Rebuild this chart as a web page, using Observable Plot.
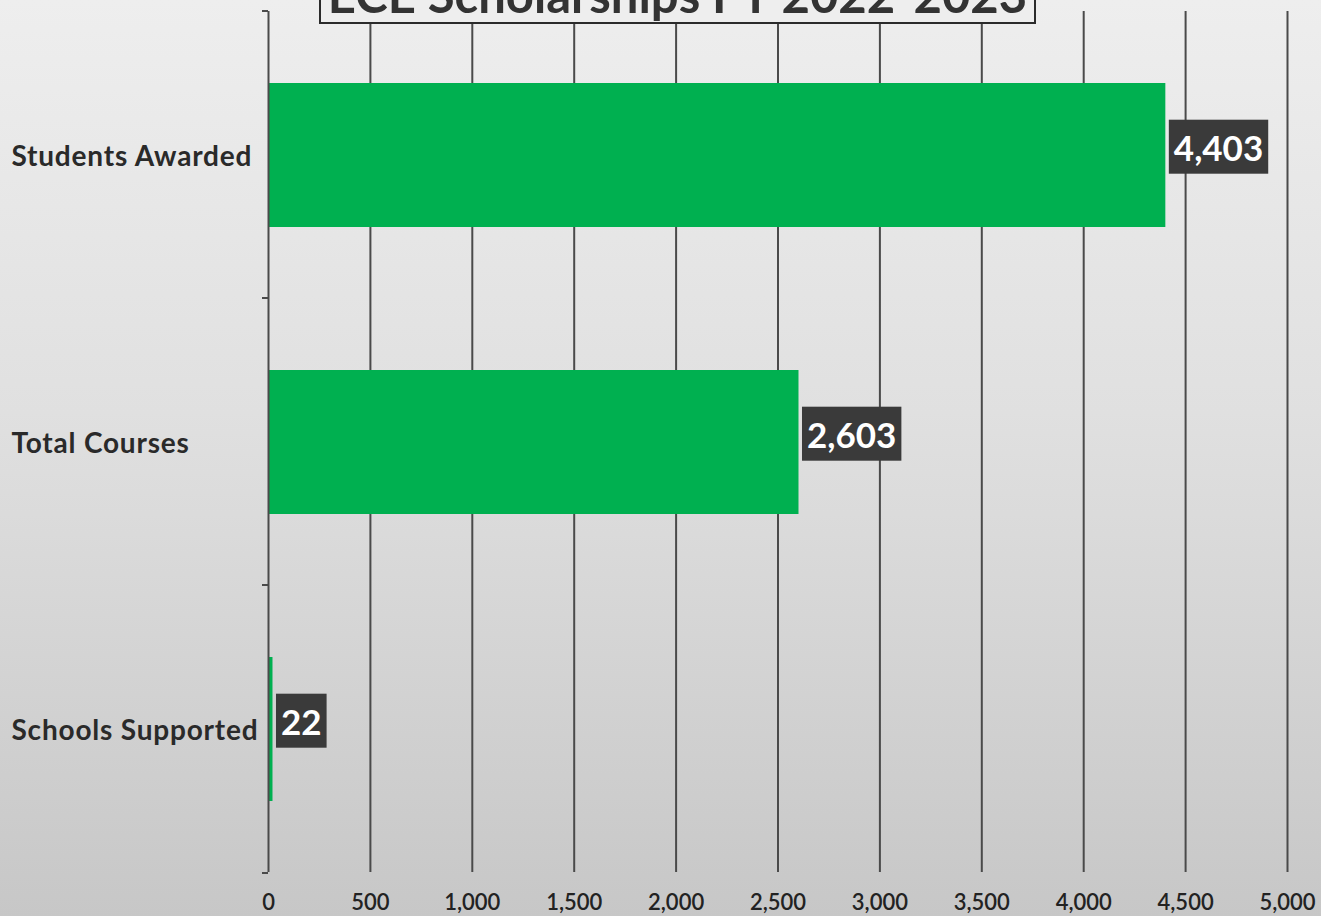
<!DOCTYPE html>
<html>
<head>
<meta charset="utf-8">
<script src="https://cdn.jsdelivr.net/npm/d3@7"></script>
<script src="https://cdn.jsdelivr.net/npm/@observablehq/plot@0.6"></script>
<style>
  html, body { margin: 0; padding: 0; width: 1321px; height: 916px; overflow: hidden; }
  body { background: linear-gradient(to bottom, #eeeeee 0%, #e0e0e0 45%, #c7c7c7 100%); position: relative; font-family: Lato, "Open Sans", sans-serif; }
  #chart { position: absolute; left: 0; top: 0; }
  #title { position: absolute; left: 319px; top: -36px; width: 713px; height: 56px; border: 2.5px solid #2b2b2b;
           background: #eeeeee; color: #333; font-family: Lato, "Open Sans", sans-serif; font-weight: 700; font-size: 49px;
           line-height: 56px; text-align: center; white-space: nowrap; z-index: 2; }
</style>
</head>
<body>
<div id="chart"></div>
<div id="title">ECE Scholarships FY 2022-2023</div>
<script>
const categories = ["Students Awarded", "Total Courses", "Schools Supported"];
const values = [4403, 2603, 22];
const xTicks = [0, 500, 1000, 1500, 2000, 2500, 3000, 3500, 4000, 4500, 5000];

const data = categories.map((c, i) => ({category: c, value: values[i]}));
const fmt = d3.format(",");

const chart = Plot.plot({
  width: 1321,
  height: 916,
  marginLeft: 268,
  marginRight: 34,
  marginTop: 11,
  marginBottom: 44,
  style: {background: "transparent", overflow: "visible", fontFamily: "Lato, 'Open Sans', sans-serif"},
  x: {domain: [0, 5000], ticks: xTicks},
  y: {domain: categories, paddingInner: 0.5, paddingOuter: 0.25, label: null},
  marks: [
    Plot.gridX(xTicks.slice(1), {stroke: "#4a4a4a", strokeOpacity: 1, strokeWidth: 2}),
    Plot.axisX(xTicks, {tickSize: 0, tickPadding: 22, tickFormat: fmt, fontSize: 22, fontWeight: 600, fill: "#222", label: null}),
    Plot.axisY({tickSize: 0, textAnchor: "start", dx: -248, dy: 2, fontSize: 28, fontWeight: 700, fill: "#2a2a2a", label: null,
      className: "ylab"}),
    Plot.barX(data, {x: "value", y: "category", fill: "#00b050"}),
    Plot.ruleX([0], {stroke: "#4a4a4a", strokeWidth: 2}),
    Plot.text(data, {x: "value", y: "category", text: d => fmt(d.value), textAnchor: "start", dx: 8, dy: -6,
      fill: "white", fontSize: 35, fontWeight: 700, className: "vlabel"})
  ]
});
document.getElementById("chart").appendChild(chart);

const svg = d3.select(chart);
svg.selectAll("g.ylab text").style("letter-spacing", "0.8px");

// dark boxes behind value labels
svg.selectAll("g.vlabel text").each(function() {
  const b = this.getBBox();
  const t = this.getAttribute("transform");
  d3.select(this.parentNode).insert("rect", () => this)
    .attr("x", b.x - 5).attr("y", b.y - 6).attr("width", b.width + 10).attr("height", b.height + 12)
    .attr("fill", "#3a3a3a").attr("transform", t);
});

// small category-boundary ticks on the y axis
const y = chart.scale("y");
const x0 = chart.scale("x").apply(0);
const bounds = categories.map(c => y.apply(c) - y.bandwidth * 0.5)
  .concat([y.apply(categories[categories.length - 1]) + y.bandwidth * 1.5]);
svg.append("g").selectAll("line").data(bounds).join("line")
  .attr("x1", x0 - 6).attr("x2", x0).attr("y1", d => d).attr("y2", d => d)
  .attr("stroke", "#4a4a4a").attr("stroke-width", 2);
</script>
</body>
</html>
